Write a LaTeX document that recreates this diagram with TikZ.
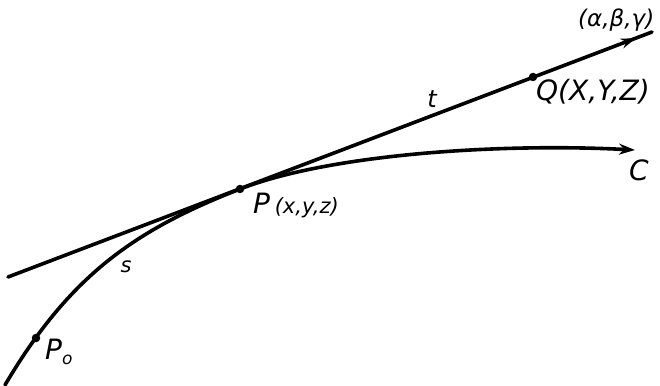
\documentclass[tikz,border=0pt]{standalone}
\usepackage{fontspec}
\setmainfont{DejaVu Sans}
\usetikzlibrary{arrows.meta,decorations.markings}
\begin{document}
\begin{tikzpicture}[x=1pt,y=-1pt,
  curveline/.style={line width=3.6pt,line cap=round},
  dotmark/.style={circle,fill=black,inner sep=0pt,minimum size=8.5pt},
  lbl/.style={inner sep=0pt,font=\fontsize{28}{30}\selectfont\itshape},
  smalllbl/.style={inner sep=0pt,font=\fontsize{21}{24}\selectfont\itshape},
  tipmark/.style={postaction={decorate},decoration={markings,
     mark=at position #1 with {\arrow{Stealth[length=15pt,width=10pt]}}}}]
\useasboundingbox (0,0) rectangle (660,385);
% points
\coordinate (start) at (5,385);
\coordinate (P) at (240,189);
\coordinate (Cend) at (635,150);
\coordinate (Tl) at (8,277);
\coordinate (Tr) at (652,32);
% curve C
\draw[curveline,-{Stealth[length=16pt,width=11pt]}]
  (start) .. controls (70,275) and (135,230) .. (P)
          .. controls (330,154) and (500,143) .. (Cend);
% tangent line
\draw[curveline,tipmark=0.975] (Tl) -- (Tr);
% dots
\node[dotmark] (p) at (P) {};
\node[dotmark] (q) at (533,77) {};
\node[dotmark] (p0) at (36,338) {};
% labels
\node[lbl,anchor=base west] (Ql) at (536,101) {Q(X,Y,Z)};
\node[smalllbl,anchor=base west,font=\fontsize{23}{26}\selectfont\itshape] (abg) at (578,27) {(α,β,γ)};
\node[smalllbl,font=\fontsize{24}{26}\selectfont\itshape] (tl) at (432,99) {t};
\node[lbl,anchor=base west] (Pl) at (253,213) {P\,{\fontsize{21}{24}\selectfont(x,y,z)}};
\node[lbl] (Cl) at (639,170) {C};
\node[smalllbl] (sl) at (126,267) {s};
\node[lbl,anchor=base west] (P0l) at (45,359) {P\raisebox{-5pt}{\fontsize{17}{18}\selectfont o}};
\end{tikzpicture}
\end{document}
